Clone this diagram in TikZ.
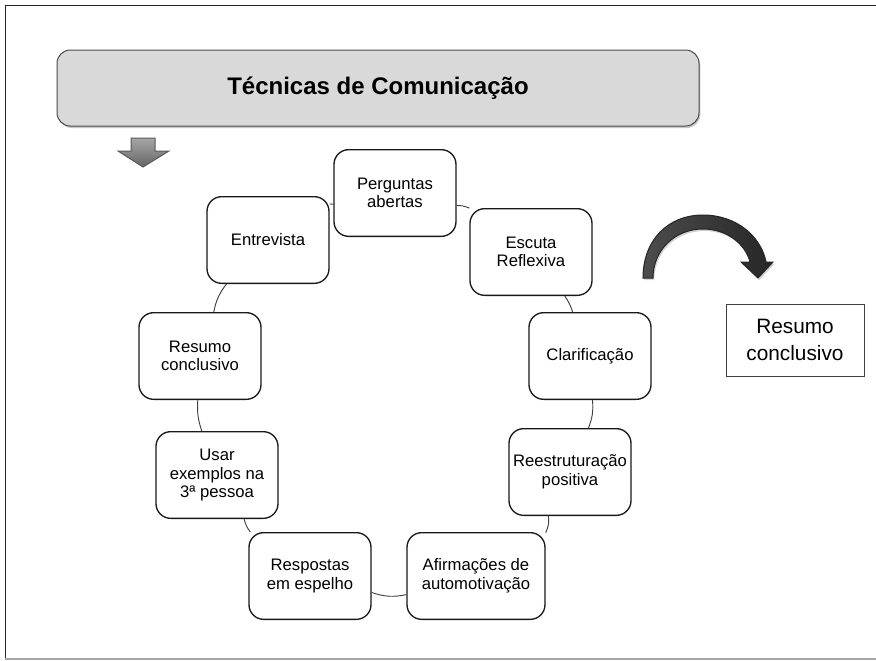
\documentclass[tikz,border=0pt]{standalone}
\usepackage{fontspec}
\setmainfont{Liberation Sans}
\usetikzlibrary{shadows}

\tikzset{every picture/.style={line width=0.75pt}}
\tikzset{
  titlebanner/.style={draw=black!70, fill=black!15, rounded corners=10pt, minimum width=481.5pt, minimum height=57pt, drop shadow={shadow xshift=1pt, shadow yshift=-1.5pt, opacity=0.45}, font=\fontsize{18}{22}\selectfont\bfseries},
  cyclebox/.style={draw=black!90, line width=1pt, fill=white, rounded corners=11pt, minimum width=91.5pt, minimum height=65pt, align=center, inner sep=2pt, font=\fontsize{12.5}{14}\selectfont},
  cyclelink/.style={draw=black!75, line width=0.7pt},
  sidebox/.style={draw=black!75, fill=white, minimum width=103.5pt, minimum height=54pt, align=center, font=\fontsize{15.6}{20}\selectfont},
}

\begin{document}
\begin{tikzpicture}[x=0.75pt,y=0.75pt,yscale=-1,xscale=1]
\useasboundingbox (0,0) rectangle (876,661);

%Straight Lines [frame]
\draw [color=black!85] (5,659) -- (5,5) -- (876,5) ;
\draw [color=black!35, line width=1.2pt] (5,659) -- (876,659) ;

%Shape: Rounded Rect [title]
\node [titlebanner] (title) at (378,88) {Técnicas de Comunicação};

%Shape: Down Arrow
\draw [draw=black!65, top color=black!35, bottom color=black!60] (131,138) -- (155,138) -- (155,151) -- (169,151) -- (143,167) -- (118,151) -- (131,151) -- cycle ;

%Shape: Circular Arrow
\draw [draw=black!85, left color=black!70, right color=black!85, drop shadow={shadow xshift=1pt, shadow yshift=-1.5pt, opacity=0.35}] (643,278) .. controls (643,240) and (668,215) .. (703,215) .. controls (736,215) and (761,236) .. (766,262) -- (773,262) -- (758,278) -- (741,262) -- (750,262) .. controls (745,243) and (726,229) .. (703,229) .. controls (675,229) and (653,250) .. (653,278) -- cycle ;

% Cycle nodes
\node [cyclebox] (perguntas) at (395,193) {Perguntas\\abertas};
\node [cyclebox] (escuta) at (531,252) {Escuta\\Reflexiva};
\node [cyclebox] (clarificacao) at (590,356) {Clarificação};
\node [cyclebox] (reestruturacao) at (570,472) {Reestruturação\\positiva};
\node [cyclebox, minimum width=103.5pt] (afirmacoes) at (476,576) {Afirmações de\\automotivação};
\node [cyclebox] (respostas) at (310,576) {Respostas\\em espelho};
\node [cyclebox] (exemplos) at (217,475) {Usar\\exemplos na\\3ª pessoa};
\node [cyclebox] (resumo) at (200,356) {Resumo\\conclusivo};
\node [cyclebox] (entrevista) at (268,240) {Entrevista};

% Cycle links
\draw [cyclelink] (perguntas) to[bend right=12] (escuta) ;
\draw [cyclelink] (escuta) to[bend right=8] (clarificacao) ;
\draw [cyclelink] (clarificacao) to[bend right=13] (reestruturacao) ;
\draw [cyclelink] (reestruturacao) to[bend right=16] (afirmacoes) ;
\draw [cyclelink] (afirmacoes) to[bend right=15] (respostas) ;
\draw [cyclelink] (respostas) to[bend right=11] (exemplos) ;
\draw [cyclelink] (exemplos) to[bend right=11] (resumo) ;
\draw [cyclelink] (resumo) to[bend right=13] (entrevista) ;
\draw [cyclelink] (entrevista) to[bend right=10] (perguntas) ;

% Text Node
\node [sidebox] (resumofinal) at (795,340) {Resumo\\conclusivo};

\end{tikzpicture}
\end{document}
